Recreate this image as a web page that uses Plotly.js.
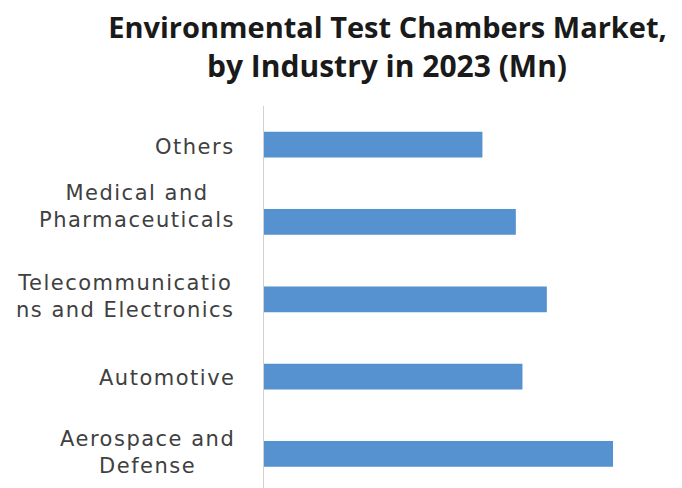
<!DOCTYPE html>
<html>
<head>
<meta charset="utf-8">
<script src="https://cdn.plot.ly/plotly-3.0.1.min.js"></script>
<style>
html,body{margin:0;padding:0;background:#fff;}
.annotation-text{letter-spacing:1.5px;}
</style>
</head>
<body>
<div id="chart" style="width:682px;height:488px;"></div>
<script>
// Categories listed bottom-to-top
var categories = ["Aerospace and Defense", "Automotive", "Telecommunications and Electronics", "Medical and Pharmaceuticals", "Others"];
var tickLabels = ["Aerospace and<br>Defense", "Automotive", "Telecommunicatio<br>ns and Electronics", "Medical and<br>Pharmaceuticals", "Others"];
var values = [100.2, 74.2, 81.2, 72.3, 62.7];
var titleLine1 = "Environmental Test Chambers Market,";
var titleLine2 = "by Industry in 2023 (Mn)";

var labelFont = {family: "DejaVu Sans", size: 21, color: "#404040"};
var titleFont1 = {family: "Open Sans", size: 29, color: "#1a1a1a", weight: 700};
var titleFont2 = {family: "Open Sans", size: 30, color: "#1a1a1a", weight: 700};
var labelYShift = {"Medical and Pharmaceuticals": 15, "Telecommunications and Electronics": 3, "Aerospace and Defense": 1, "Others": -2, "Automotive": -1};

var annotations = categories.map(function (c, i) {
  return {
    xref: "paper", yref: "y", x: 0, y: c,
    xanchor: "right", yanchor: "middle", xshift: -27, yshift: labelYShift[c],
    text: tickLabels[i], align: "center", showarrow: false,
    font: labelFont
  };
});
annotations.push({
  xref: "paper", yref: "paper", x: (386.5 - 264) / 418, y: 1, yshift: 18,
  xanchor: "center", yanchor: "bottom",
  text: "<b>" + titleLine2 + "</b>", showarrow: false, font: titleFont2
});

var data = [{
  type: "bar", orientation: "h",
  y: categories, x: values,
  marker: {color: "#5592cf"},
  hoverinfo: "x+y"
}];

var layout = {
  width: 682, height: 488,
  margin: {l: 264, r: 0, t: 106, b: 0, pad: 0},
  paper_bgcolor: "#ffffff", plot_bgcolor: "#ffffff",
  title: {
    text: "<b>" + titleLine1 + "</b>", font: titleFont1,
    x: 387.5 / 682, xanchor: "center", xref: "container",
    y: 1 - 18 / 488, yanchor: "top", yref: "container"
  },
  bargap: 0.667,
  showlegend: false,
  xaxis: {range: [0, 120], visible: false, showgrid: false, zeroline: false, fixedrange: true},
  yaxis: {
    type: "category", categoryorder: "array", categoryarray: categories,
    range: [-0.44, 4.5], showticklabels: false, ticks: "",
    showline: true, linecolor: "#d4d0cc", linewidth: 1,
    showgrid: false, zeroline: false, fixedrange: true
  },
  annotations: annotations
};

Plotly.newPlot("chart", data, layout, {displayModeBar: false, staticPlot: true}).then(function () {
  var texts = document.querySelectorAll("#chart .annotation-text");
  if (texts.length > categories.length) {
    texts[categories.length].style.letterSpacing = "0px";
  }
});
</script>
</body>
</html>
